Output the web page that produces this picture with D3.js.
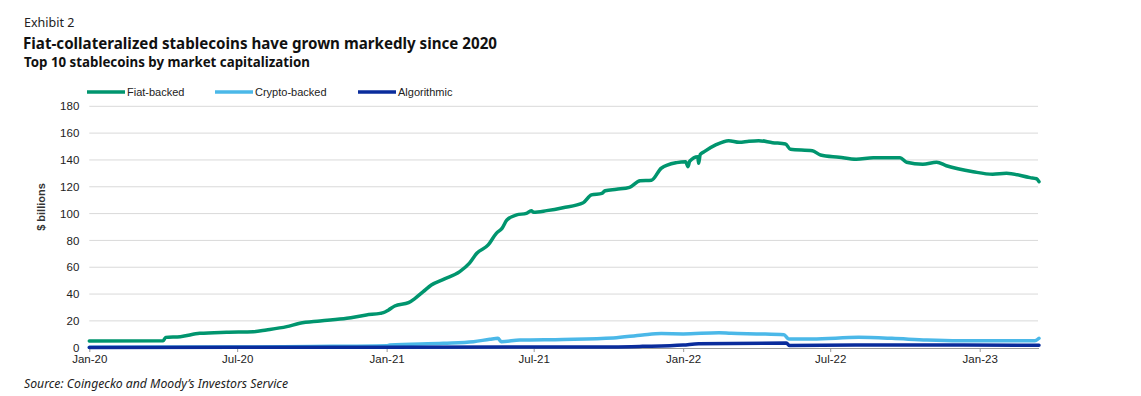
<!DOCTYPE html>
<html><head><meta charset="utf-8">
<script src="https://cdn.jsdelivr.net/npm/d3@7"></script>
<style>
body{margin:0;background:#fff;}
svg{display:block;}
</style></head>
<body>
<svg id="chart" width="1141" height="396"></svg>
<script>
// ---- data (values in $ billions) ----
const seriesNames = ["Fiat-backed", "Crypto-backed", "Algorithmic"];
const xTickLabels = ["Jan-20","Jul-20","Jan-21","Jul-21","Jan-22","Jul-22","Jan-23"];
const yTicks = [0,20,40,60,80,100,120,140,160,180];

const fiatDates = ["2020-01-01","2020-04-01","2020-04-04","2020-04-22","2020-05-16","2020-06-18","2020-07-21","2020-08-06","2020-08-31","2020-09-16","2020-10-11","2020-11-13","2020-12-07","2020-12-24","2020-12-28","2021-01-03","2021-01-11","2021-01-28","2021-02-05","2021-02-15","2021-02-25","2021-03-12","2021-04-01","2021-04-13","2021-04-22","2021-05-06","2021-05-16","2021-05-23","2021-05-29","2021-06-10","2021-06-22","2021-06-28","2021-07-01","2021-07-17","2021-08-06","2021-08-31","2021-09-10","2021-09-23","2021-09-27","2021-10-11","2021-10-27","2021-11-09","2021-11-23","2021-12-05","2021-12-24","2022-01-04","2022-01-07","2022-01-09","2022-01-19","2022-01-20","2022-01-22","2022-01-27","2022-02-10","2022-02-26","2022-03-11","2022-03-23","2022-04-04","2022-04-21","2022-05-07","2022-05-13","2022-06-09","2022-06-19","2022-07-12","2022-08-02","2022-08-23","2022-09-25","2022-10-03","2022-10-23","2022-11-09","2022-11-21","2022-12-24","2023-01-17","2023-02-03","2023-03-04","2023-03-12","2023-03-15"];
const fiatValues = [5.0,5.2,7.7,8.2,10.7,11.5,11.9,13.2,15.7,18.2,19.9,21.9,24.4,25.6,26.1,28.0,31.1,33.6,36.8,41.8,46.8,51.0,56.7,63.0,70.4,76.6,85.3,89.0,95.2,99.0,100.2,102.2,101.0,102.2,104.4,108.1,113.9,115.1,117.0,118.1,119.6,124.5,124.9,133.8,138.0,138.7,135.0,139.0,142.4,137.5,144.0,146.2,151.2,154.4,153.2,154.0,154.4,152.9,151.9,148.0,146.9,143.7,142.0,140.5,141.7,141.7,138.3,136.8,138.3,135.7,131.2,129.3,130.0,126.8,126.0,123.8];

const cryptoDates = ["2020-01-01","2020-07-01","2020-10-01","2021-01-01","2021-01-05","2021-03-12","2021-04-18","2021-05-08","2021-05-18","2021-05-22","2021-06-14","2021-08-06","2021-10-07","2021-11-12","2021-12-05","2022-01-01","2022-02-14","2022-03-01","2022-04-04","2022-05-05","2022-05-11","2022-06-09","2022-08-05","2022-09-15","2022-10-28","2022-12-07","2023-03-10","2023-03-15"];
const cryptoValues = [0.3,0.5,0.9,1.5,2.0,3.3,4.5,6.3,7.0,4.5,5.7,6.2,7.3,9.5,10.5,10.3,11.2,10.7,10.3,9.7,6.5,6.5,7.7,7.0,5.7,5.2,5.2,7.0];

const algoDates = ["2020-01-01","2020-07-01","2021-01-01","2021-07-01","2021-10-07","2021-11-12","2022-01-01","2022-01-20","2022-05-08","2022-05-12","2022-08-01","2023-03-15"];
const algoValues = [0.2,0.3,0.4,0.5,0.6,1.0,2.0,3.0,3.5,1.6,2.0,1.9];

const colors = ["#00956e", "#4bb8e8", "#0a2c9c"];

// ---- layout ----
const svg = d3.select("#chart");
const parse = d3.utcParse("%Y-%m-%d");
const x = d3.scaleUtc()
  .domain([parse("2020-01-01"), parse("2023-03-15")])
  .range([89.3, 1039]);
const y = d3.scaleLinear().domain([0, 180]).range([347.7, 106.3]);

const sansTitle = "'Noto Sans', 'Open Sans', sans-serif";
const arial = "'Liberation Sans', Arial, sans-serif";

// titles
svg.append("text").attr("x", 24).attr("y", 26.5).attr("font-family", sansTitle)
  .attr("font-size", 12.5).attr("fill", "#222").text("Exhibit 2");
svg.append("text").attr("x", 23).attr("y", 48.5).attr("font-family", sansTitle)
  .attr("font-size", 16.5).attr("font-weight", "bold").attr("fill", "#111")
  .attr("textLength", 474).attr("lengthAdjust", "spacingAndGlyphs")
  .text("Fiat-collateralized stablecoins have grown markedly since 2020");
svg.append("text").attr("x", 24).attr("y", 66.5).attr("font-family", sansTitle)
  .attr("font-size", 13.5).attr("font-weight", "bold").attr("fill", "#111")
  .attr("textLength", 286).attr("lengthAdjust", "spacingAndGlyphs")
  .text("Top 10 stablecoins by market capitalization");

// legend
const legendX = [87, 215, 358];
seriesNames.forEach((n, i) => {
  svg.append("line").attr("x1", legendX[i]).attr("x2", legendX[i] + 38)
    .attr("y1", 92).attr("y2", 92).attr("stroke", colors[i]).attr("stroke-width", 3.5);
  svg.append("text").attr("x", legendX[i] + 40).attr("y", 96)
    .attr("font-family", arial).attr("font-size", 11).attr("fill", "#222").text(n);
});

// gridlines
svg.append("g").selectAll("line").data(yTicks.filter(d => d > 0)).join("line")
  .attr("x1", 89.3).attr("x2", 1038).attr("y1", d => y(d)).attr("y2", d => y(d))
  .attr("stroke", "#d9d9d9").attr("stroke-width", 1);

// y axis labels
const yAxis = d3.axisLeft(y).tickValues(yTicks).tickSize(0).tickPadding(10);
const gy = svg.append("g").attr("transform", "translate(89.3,0)").call(yAxis);
gy.select(".domain").remove();
gy.selectAll("text").attr("font-family", arial).attr("font-size", 11.5).attr("fill", "#222");

svg.append("text").attr("transform", "translate(45,207) rotate(-90)")
  .attr("text-anchor", "middle").attr("font-family", arial).attr("font-size", 11)
  .attr("font-weight", "bold").attr("fill", "#333").text("$ billions");

// x axis
const tickDates = xTickLabels.map(s => d3.utcParse("%b-%y")(s));
const xAxis = d3.axisBottom(x).tickValues(tickDates).tickFormat(d3.utcFormat("%b-%y"))
  .tickSize(4).tickPadding(3);
const gx = svg.append("g").attr("transform", "translate(0,348)").call(xAxis);
gx.select(".domain").attr("stroke", "#9a9a9a").attr("d", "M89.3,0.5H1039");
gx.selectAll(".tick line").attr("stroke", "#9a9a9a");
gx.selectAll("text").attr("font-family", arial).attr("font-size", 11.5).attr("fill", "#222");

// lines
const line = d3.line().x(d => x(d[0])).y(d => y(d[1])).curve(d3.curveMonotoneX);
const series = [
  d3.zip(cryptoDates.map(parse), cryptoValues),
  d3.zip(algoDates.map(parse), algoValues),
  d3.zip(fiatDates.map(parse), fiatValues)
];
const seriesColor = [colors[1], colors[2], colors[0]];
series.forEach((s, i) => {
  svg.append("path").datum(s).attr("d", line).attr("fill", "none")
    .attr("stroke", seriesColor[i]).attr("stroke-width", 3.5)
    .attr("stroke-linejoin", "round").attr("stroke-linecap", "round");
});

// source
svg.append("text").attr("x", 24).attr("y", 388).attr("font-family", sansTitle)
  .attr("font-size", 12).attr("font-style", "italic").attr("fill", "#222")
  .attr("textLength", 264).attr("lengthAdjust", "spacingAndGlyphs")
  .text("Source: Coingecko and Moody’s Investors Service");
</script>
</body></html>
